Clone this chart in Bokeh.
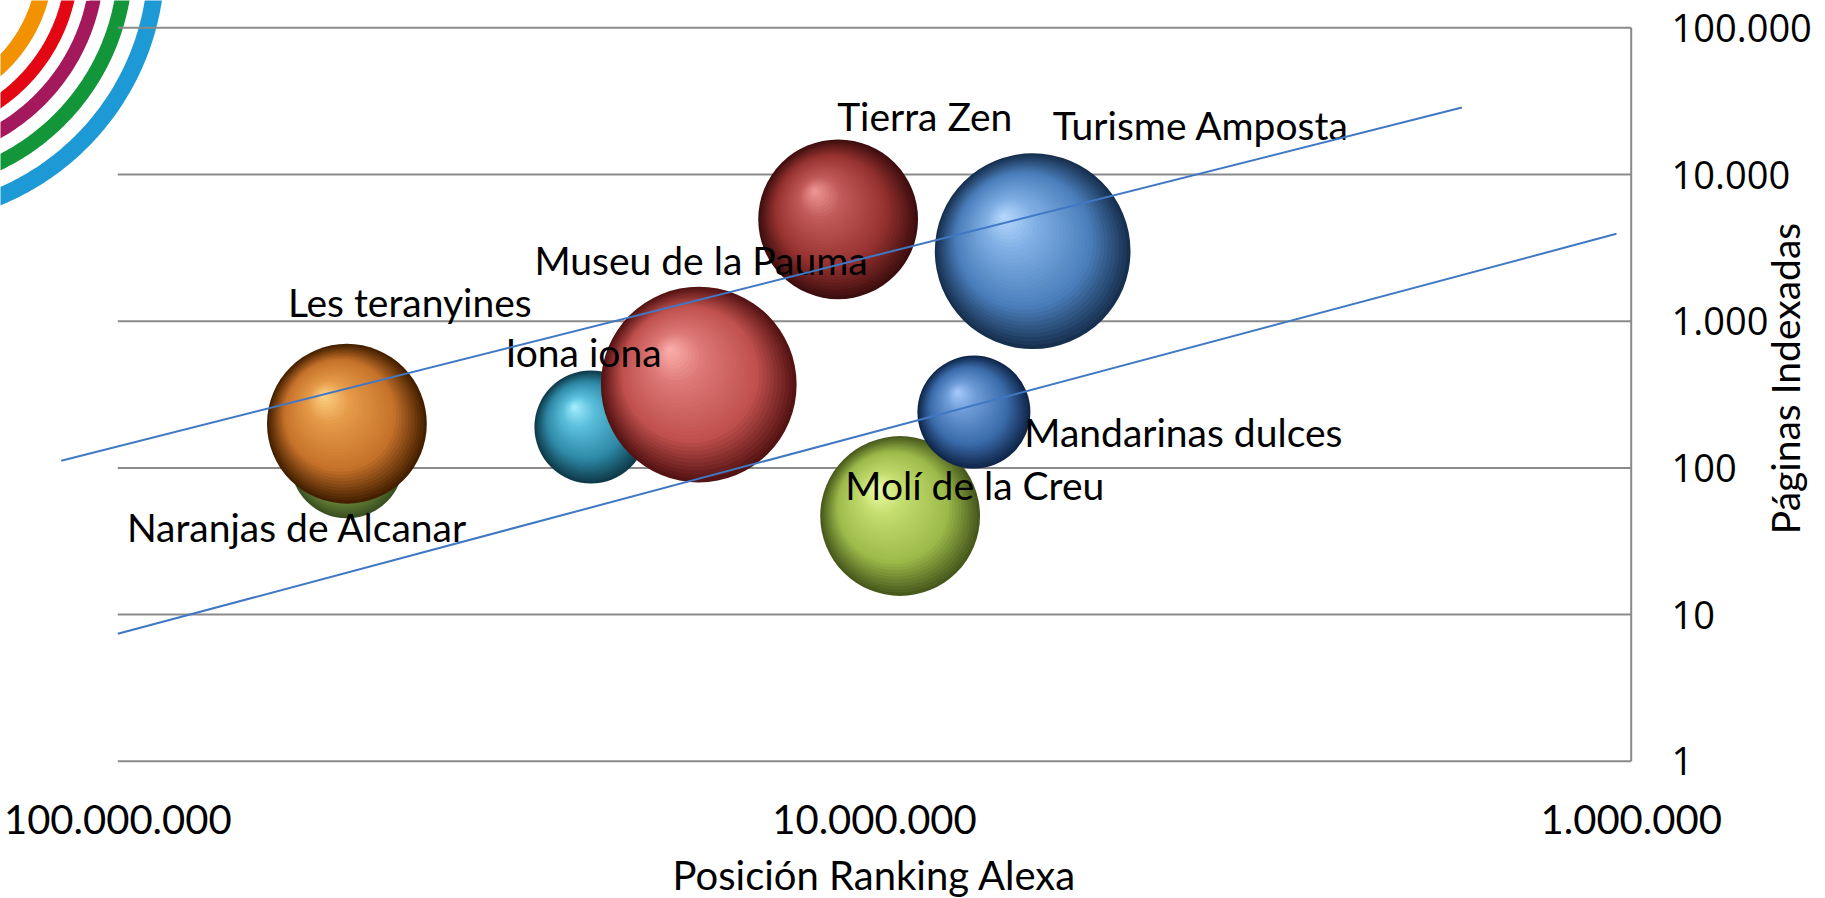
import math
from bokeh.plotting import figure
from bokeh.models import Range1d, FixedTicker, CustomJSTickFormatter, ColumnDataSource
from bokeh.core.properties import value
from bokeh.embed import file_html
from bokeh.resources import INLINE

# ---------------- data ----------------
names = ["Naranjas de Alcanar", "Les teranyines", "Iona iona", "Museu de la Pauma",
         "Tierra Zen", "Turisme Amposta", "Molí de la Creu", "Mandarinas dulces"]
alexa_rank = [4.98e7, 4.98e7, 2.37e7, 1.707e7, 1.117e7, 6.18e6, 9.25e6, 7.39e6]
pages_indexed = [110, 200, 190, 370, 4950, 3000, 47, 240]
bubble_size = [1, 2, 1, 3, 2, 3, 2, 1]

x_tick_values = [100000000, 10000000, 1000000]
x_tick_labels = ["100.000.000", "10.000.000", "1.000.000"]
y_tick_values = [1, 10, 100, 1000, 10000, 100000]
y_tick_labels = ["1", "10", "100", "1.000", "10.000", "100.000"]

trend_upper_x = [1.188e8, 1.674e6]
trend_upper_y = [112, 28600]
trend_lower_x = [1.0e8, 1.046e6]
trend_lower_y = [7.4, 3940]

x_title = "Posición Ranking Alexa"
y_title = "Páginas Indexadas"

# ---------------- layout (page pixels) ----------------
W, H = 1825, 898
PLOT_L, PLOT_R = 117.3, 1630.7      # pixel of 1e8 and 1e6
PLOT_T, PLOT_B = 27.3, 760.8        # pixel of 1e5 and 1
FRAME_L, FRAME_T, FRAME_R, FRAME_B = 0, 0, W, H
PPD_X = (PLOT_R - PLOT_L) / 2.0
PPD_Y = (PLOT_B - PLOT_T) / 5.0

x_start = 10 ** (8 + (PLOT_L - FRAME_L) / PPD_X)
x_end = 10 ** (6 - (FRAME_R - PLOT_R) / PPD_X)
y_start = 10 ** (0 - (FRAME_B - PLOT_B) / PPD_Y)
y_end = 10 ** (5 + (PLOT_T - FRAME_T) / PPD_Y)


def px_to_x(px):
    return 10 ** (8 - (px - PLOT_L) / PPD_X)


def px_to_y(py):
    return 10 ** (5 - (py - PLOT_T) / PPD_Y)


p = figure(width=W, height=H, x_axis_type="log", y_axis_type="log",
           x_range=Range1d(x_start, x_end), y_range=Range1d(y_start, y_end),
           y_axis_location="right", output_backend="svg", toolbar_location=None,
           min_border=0)
p.outline_line_color = None
p.background_fill_color = "white"
p.border_fill_color = "white"
p.xgrid.visible = False
p.ygrid.visible = False

# ---------------- decorative rainbow arcs (top-left logo) ----------------
arc_colors = ["#F39200", "#E30613", "#A3195B", "#13963A", "#1D9AD6"]
arc_radii = [145, 172, 197, 225, 256]
arc_widths = [16, 13, 14, 15, 17]
acx, acy = -100, -40
axs, ays = [], []
for R in arc_radii:
    th = [i * (math.pi / 2) / 60 for i in range(61)]
    axs.append([px_to_x(acx + R * math.cos(t)) for t in th])
    ays.append([px_to_y(acy + R * math.sin(t)) for t in th])
p.multi_line(xs="xs", ys="ys", line_color="c", line_width="w",
             source=ColumnDataSource(dict(xs=axs, ys=ays, c=arc_colors, w=arc_widths)))

# ---------------- gridlines and border ----------------
grid_color = "#8A8A8A"
p.segment(x0=[x_tick_values[0]] * len(y_tick_values), x1=[x_tick_values[-1]] * len(y_tick_values),
          y0=y_tick_values, y1=y_tick_values, line_color=grid_color, line_width=2)
p.segment(x0=[x_tick_values[-1]], x1=[x_tick_values[-1]], y0=[y_tick_values[0]], y1=[y_tick_values[-1]],
          line_color=grid_color, line_width=2)

# ---------------- 3D-looking bubbles ----------------
palettes = {
    "Turisme Amposta":     ["#17304F", "#4A7EBB", "#7FAEE3", "#B8DAFF"],
    "Tierra Zen":          ["#3E0E0E", "#963230", "#C05A58", "#F29A9A"],
    "Museu de la Pauma":   ["#551313", "#C0504D", "#DC7876", "#FFB2B0"],
    "Iona iona":           ["#0F3A4A", "#2E89A6", "#5CC0DC", "#AAF0FF"],
    "Les teranyines":      ["#452000", "#C6722A", "#E59A48", "#FFD488"],
    "Naranjas de Alcanar": ["#3A5020", "#7E9D45", "#A5C46A", "#D2EA9C"],
    "Molí de la Creu":     ["#48591C", "#9CBB4A", "#C3DC6E", "#F0FFAA"],
    "Mandarinas dulces":   ["#10264A", "#3A6BAA", "#6D9BD6", "#AACDFF"],
}
stops = [0.0, 0.3, 0.72, 1.0]


def hex2rgb(h):
    return tuple(int(h[i:i + 2], 16) for i in (1, 3, 5))


def interp(cols, t):
    for j in range(len(stops) - 1):
        if t <= stops[j + 1]:
            f = (t - stops[j]) / (stops[j + 1] - stops[j])
            a, b = hex2rgb(cols[j]), hex2rgb(cols[j + 1])
            return "#%02x%02x%02x" % tuple(round(a[k] + (b[k] - a[k]) * f) for k in range(3))
    return cols[-1]


R1 = 56.5   # px radius of a size-1 bubble
N = 34
bx, by, bs, bc = [], [], [], []
for i, name in enumerate(names):
    r = R1 * math.sqrt(bubble_size[i])
    for k in range(N):
        t = k / N
        rad = r * (1 - t)
        dx = -0.30 * r * t
        dy_up = 0.36 * r * t
        bx.append(alexa_rank[i] * 10 ** (-dx / PPD_X))
        by.append(pages_indexed[i] * 10 ** (dy_up / PPD_Y))
        bs.append(2 * rad)
        bc.append(interp(palettes[name], t))
p.scatter(x="x", y="y", size="s", fill_color="c", line_color=None, marker="circle",
          source=ColumnDataSource(dict(x=bx, y=by, s=bs, c=bc)))

# ---------------- bubble labels ----------------
label_dx = {"Naranjas de Alcanar": -220, "Les teranyines": -59, "Iona iona": -85.5,
            "Museu de la Pauma": -164.3, "Tierra Zen": -1, "Turisme Amposta": 20,
            "Molí de la Creu": -54.8, "Mandarinas dulces": 50.4}
label_dy = {"Naranjas de Alcanar": 64.7, "Les teranyines": -122, "Iona iona": -75.3,
            "Museu de la Pauma": -125, "Tierra Zen": -103.8, "Turisme Amposta": -126.2,
            "Molí de la Creu": -31.2, "Mandarinas dulces": 20.1}
p.text(x="x", y="y", text="t", x_offset="dx", y_offset="dy",
       source=ColumnDataSource(dict(x=alexa_rank, y=pages_indexed, t=names,
                                    dx=[label_dx[n] for n in names], dy=[label_dy[n] for n in names])),
       text_font=value("Lato"), text_font_size=value("39px"), text_color="black",
       text_align="left", text_baseline="alphabetic")

# ---------------- trend lines ----------------
p.line(trend_upper_x, trend_upper_y, line_color="#4178C4", line_width=2)
p.line(trend_lower_x, trend_lower_y, line_color="#4178C4", line_width=2)

# ---------------- axis titles ----------------
p.text(x=[x_tick_values[1]], y=[px_to_y(874)], text=[x_title],
       text_font=value("Lato"), text_font_size=value("40px"), text_color="black",
       text_align="center", text_baseline="middle")
p.text(x=[px_to_x(1784)], y=[px_to_y(378)], text=[y_title], angle=math.pi / 2,
       text_font=value("Lato"), text_font_size=value("39px"), text_color="black",
       text_align="center", text_baseline="middle")

# ---------------- axes ----------------
fmt_code = """
const k = Math.round(Math.log10(tick));
for (let i = 0; i < vals.length; i++) {
  if (Math.round(Math.log10(vals[i])) == k) return labs[i];
}
return "";
"""
xa = p.xaxis[0]
xa.ticker = FixedTicker(ticks=x_tick_values)
xa.formatter = CustomJSTickFormatter(args=dict(vals=x_tick_values, labs=x_tick_labels), code=fmt_code)
xa.axis_line_color = None
xa.major_tick_line_color = None
xa.minor_tick_line_color = None
xa.major_tick_out = 0
xa.major_label_text_font = "Lato"
xa.major_label_text_font_size = "40px"
xa.major_label_text_color = "black"
xa.major_label_standoff = -94

ya = p.yaxis[0]
ya.ticker = FixedTicker(ticks=y_tick_values)
ya.formatter = CustomJSTickFormatter(args=dict(vals=y_tick_values, labs=y_tick_labels), code=fmt_code)
ya.axis_line_color = None
ya.major_tick_line_color = None
ya.minor_tick_line_color = None
ya.major_tick_out = 0
ya.major_label_text_font = "Open Sans"
ya.major_label_text_font_size = "38px"
ya.major_label_text_color = "black"
ya.major_label_standoff = -154

open("out.html", "w").write(file_html(p, INLINE))
